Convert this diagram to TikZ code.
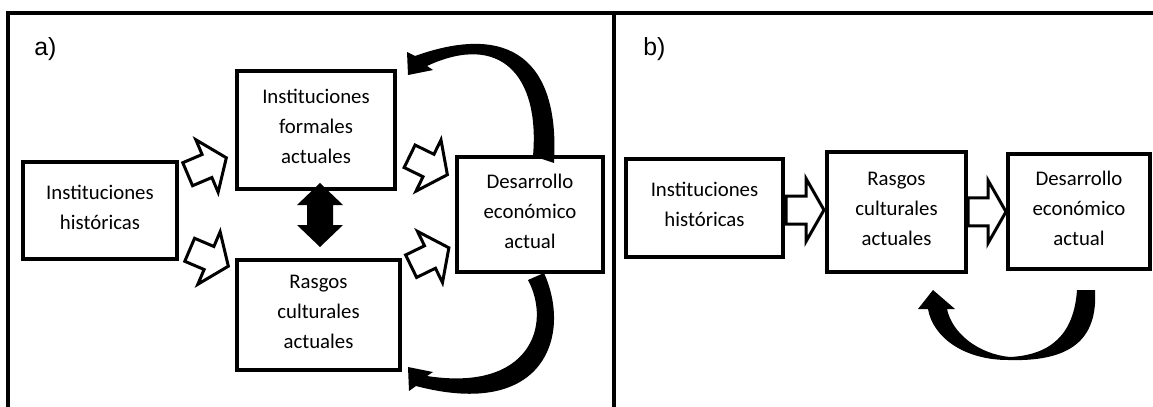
\documentclass[tikz,border=0pt]{standalone}
\usepackage{fontspec}
\setmainfont{Carlito}
\newfontfamily\labelfont{Liberation Sans}
\usetikzlibrary{calc}

\tikzset{
  box/.style={draw, line width=1.8pt, align=center, inner sep=0pt, text depth=3.5pt,
              font=\fontsize{10.4}{15}\selectfont},
  panellabel/.style={font=\labelfont\fontsize{12.4}{14}\selectfont, anchor=west, inner sep=0pt},
  frameline/.style={line width=2pt},
  hollow/.style={draw, line width=1.5pt, fill=white, line join=miter},
  blackfill/.style={fill=black},
  blockarr/.pic={\draw[hollow] (-21,-12.5) -- (0,-12.5) -- (0,-28.5) -- (21,0)
                  -- (0,28.5) -- (0,12.5) -- (-21,12.5) -- cycle;},
  flatarr/.pic={\draw[hollow] (-19,-14) -- (1,-14) -- (1,-31.5) -- (19,0)
                  -- (1,31.5) -- (1,14) -- (-19,14) -- cycle;}
}

\begin{document}
\begin{tikzpicture}[x=0.5pt, y=-0.5pt]
\useasboundingbox (0,0) rectangle (1153,407);

% frame and divider
\draw[frameline] (8,407) -- (8,13) -- (1153,13);
\draw[frameline] (614,13) -- (614,407);

% panel a
\node[panellabel] (labA) at (34,49) {a)};
\node[box, minimum width=77pt, minimum height=48.5pt] (histA) at (100,210.5) {Instituciones\\históricas};
\node[box, minimum width=79pt, minimum height=59pt] (formA) at (316,130) {Instituciones\\formales\\actuales};
\node[box, minimum width=81.5pt, minimum height=55pt] (rasA) at (318.5,315) {Rasgos\\culturales\\actuales};
\node[box, minimum width=73pt, minimum height=57.5pt] (desA) at (530,214.5) {Desarrollo\\económico\\actual};

\pic[rotate=23] (h2f) at (207,166) {blockarr};
\pic[rotate=-23] (h2r) at (209,258) {blockarr};
\pic[rotate=-26] (f2d) at (428.5,165.5) {blockarr};
\pic[rotate=26] (r2d) at (430,257) {blockarr};

% two-way arrow between formal institutions and culture
\fill[blackfill] (320,183) -- (343,205) -- (333,205) -- (333,225) -- (343,225) -- (320,247)
  -- (297,225) -- (307,225) -- (307,205) -- (297,205) -- cycle;

% feedback arrows
\fill[blackfill] (554,163) .. controls (560,60) and (510,22) .. (415,56) -- (407,52) -- (408,75)
  -- (433,70) -- (427,66) .. controls (500,32) and (540,75) .. (533,156) -- cycle;
\fill[blackfill] (544,273) .. controls (572,335) and (545,420) .. (416,386) -- (409,391) -- (408,367)
  -- (433,372) -- (427,376) .. controls (530,392) and (552,325) .. (528,280) -- cycle;

% panel b
\node[panellabel] (labB) at (643,49) {b)};
\node[box, minimum width=78.5pt, minimum height=49pt] (histB) at (704.5,208) {Instituciones\\históricas};
\node[box, minimum width=69.5pt, minimum height=60pt] (rasB) at (896.5,212) {Rasgos\\culturales\\actuales};
\node[box, minimum width=71pt, minimum height=57.5pt] (desB) at (1079,211.5) {Desarrollo\\económico\\actual};

\pic (h2rB) at ($(histB.east)!0.5!(rasB.west)$) {flatarr};
\pic (r2dB) at ($(rasB.east)!0.5!(desB.west)$) {flatarr};

\fill[blackfill] (1095,290) .. controls (1098,340) and (1070,362) .. (1008,360)
  .. controls (965,360) and (933,338) .. (928,309) -- (918,309) -- (933,290) -- (955,309)
  -- (947,309) .. controls (952,333) and (978,354) .. (1010,357)
  .. controls (1050,355) and (1074,335) .. (1077,290) -- cycle;
\end{tikzpicture}
\end{document}
